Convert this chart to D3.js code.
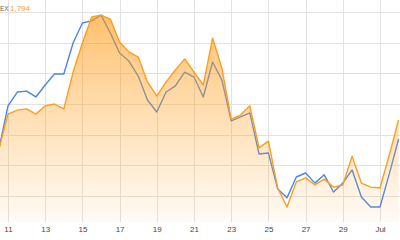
<!DOCTYPE html>
<html>
<head>
<meta charset="utf-8">
<script src="https://cdn.jsdelivr.net/npm/d3@7"></script>
<style>
  html, body { margin: 0; padding: 0; background: #fff; }
  svg { display: block; }
  text { font-family: "Liberation Sans", Arial, sans-serif; }
</style>
</head>
<body>
<svg id="chart" width="400" height="240"></svg>
<script>
// Day of June (Jul 1 = 31), half-day sampling
const days = [10.5, 11, 11.5, 12, 12.5, 13, 13.5, 14, 14.5, 15, 15.5, 16, 16.5, 17, 17.5, 18, 18.5, 19, 19.5, 20, 20.5,
  21, 21.5, 22, 22.5, 23, 23.5, 24, 24.5, 25, 25.5, 26, 26.5, 27, 27.5, 28, 28.5, 29, 29.5, 30, 30.5, 31, 31.5, 32];
const indexSeries = [1785.0, 1796.7, 1798.0, 1798.4, 1796.7, 1799.4, 1800.0, 1798.4, 1810.4, 1819.9, 1828.4, 1829.0,
  1827.7, 1820.2, 1817.0, 1815.3, 1807.2, 1802.6, 1807.2, 1811.1, 1814.7, 1810.4, 1806.2, 1821.5, 1811.7, 1795.1,
  1796.4, 1799.4, 1785.7, 1787.9, 1772.6, 1766.4, 1774.6, 1775.9, 1773.6, 1775.5, 1772.9, 1773.6, 1783.0, 1774.2,
  1772.9, 1772.6, 1783.4, 1794.8];
const compareSeries = [1785.0, 1799.4, 1803.9, 1804.2, 1802.3, 1806.2, 1809.8, 1809.8, 1819.9, 1826.4, 1827.1, 1829.0,
  1823.2, 1816.6, 1814.0, 1809.1, 1801.3, 1797.4, 1803.9, 1805.9, 1810.4, 1808.8, 1802.3, 1813.7, 1807.8, 1794.5,
  1795.8, 1797.1, 1783.7, 1784.0, 1772.3, 1769.4, 1776.2, 1777.5, 1774.2, 1776.9, 1771.3, 1774.2, 1778.5, 1769.7,
  1766.4, 1766.4, 1777.2, 1788.6];
const xTickValues = [11, 13, 15, 17, 19, 21, 23, 25, 27, 29, 31];
const xTickLabels = ["11", "13", "15", "17", "19", "21", "23", "25", "27", "29", "Jul"];
const yGridValues = [1770, 1780, 1790, 1800, 1810, 1820, 1830];
const legendName = "EX";
const legendValue = "1,794";

const W = 400, H = 240;
const plotBottom = 222;
const svg = d3.select("#chart");

const x = d3.scaleLinear().domain([11, 31]).range([8, 380]);
const y = d3.scaleLinear().domain([1830, 1770]).range([12, 196]);

const defs = svg.append("defs");
const grad = defs.append("linearGradient").attr("id", "fillGrad")
  .attr("gradientUnits", "userSpaceOnUse").attr("x1", 0).attr("x2", 0).attr("y1", 12).attr("y2", plotBottom);
grad.append("stop").attr("offset", 0).attr("stop-color", "#ff9a10").attr("stop-opacity", 0.62);
grad.append("stop").attr("offset", 1).attr("stop-color", "#ffa530").attr("stop-opacity", 0.05);

// grid
const grid = svg.append("g");
grid.selectAll("line.h").data(yGridValues).enter().append("line")
  .attr("x1", 0).attr("x2", W).attr("y1", d => Math.round(y(d)) + 0.5).attr("y2", d => Math.round(y(d)) + 0.5)
  .attr("stroke", "#e2e2e2").attr("stroke-width", 1);
grid.selectAll("line.v").data(xTickValues).enter().append("line")
  .attr("y1", 0).attr("y2", plotBottom).attr("x1", d => Math.round(x(d)) + 0.5).attr("x2", d => Math.round(x(d)) + 0.5)
  .attr("stroke", "#e2e2e2").attr("stroke-width", 1);

const pts = days.map((d, i) => ({ d, a: indexSeries[i], b: compareSeries[i] }));

// compare line (under the fill)
svg.append("path").datum(pts)
  .attr("d", d3.line().x(p => x(p.d)).y(p => y(p.b)))
  .attr("fill", "none").attr("stroke", "#4a86e8").attr("stroke-width", 1.4).attr("stroke-linejoin", "round");

// area
svg.append("path").datum(pts)
  .attr("d", d3.area().x(p => x(p.d)).y0(plotBottom).y1(p => y(p.a)))
  .attr("fill", "url(#fillGrad)");

// index line
svg.append("path").datum(pts)
  .attr("d", d3.line().x(p => x(p.d)).y(p => y(p.a)))
  .attr("fill", "none").attr("stroke", "#ff9d1e").attr("stroke-width", 1.4).attr("stroke-linejoin", "round");

// x axis labels
const xAxis = d3.axisBottom(x).tickValues(xTickValues).tickFormat((d, i) => xTickLabels[i]).tickSize(0).tickPadding(0);
const gx = svg.append("g").attr("transform", `translate(0, 226)`).call(xAxis);
gx.select(".domain").remove();
gx.selectAll("text").attr("font-size", 8).attr("fill", "#444").attr("font-family", "'Liberation Sans', Arial, sans-serif");

// legend
svg.append("text").attr("x", 0).attr("y", 10.5).attr("text-anchor", "start")
  .attr("font-size", 6.5).attr("fill", "#666").text(legendName);
svg.append("text").attr("x", 10).attr("y", 11)
  .attr("font-size", 8).attr("fill", "#f7a531").text(legendValue);
</script>
</body>
</html>
